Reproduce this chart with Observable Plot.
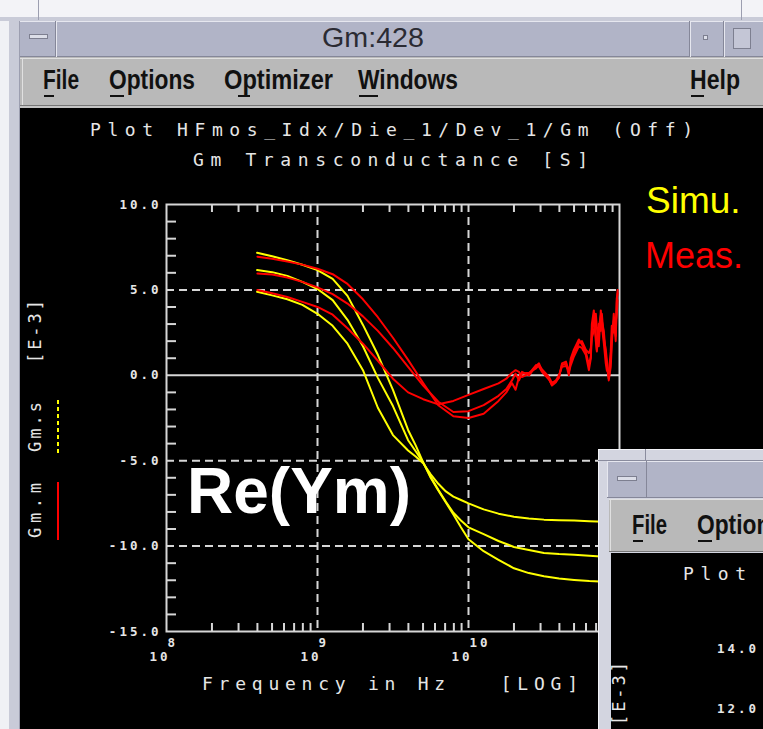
<!DOCTYPE html>
<html><head><meta charset="utf-8">
<script src="https://cdn.jsdelivr.net/npm/d3@7"></script>
<script src="https://cdn.jsdelivr.net/npm/@observablehq/plot@0.6"></script>
<style>
body{margin:0;width:763px;height:729px;overflow:hidden;position:relative;background:#f0f0f4;}
#plot{position:absolute;left:20px;top:108px;width:743px;height:621px;background:#000;}
#overlay{position:absolute;left:0;top:0;}
#plot svg text{letter-spacing:3px;}
.mono{font-family:"DejaVu Sans Mono",monospace;}
.menu{font-family:"Liberation Sans",Arial,sans-serif;font-weight:bold;font-size:27px;fill:#111;}
</style></head><body>
<div id="plot"></div>
<svg id="overlay" width="763" height="729">
  <!-- main window frame -->
  <rect x="0" y="0" width="763" height="21" fill="#f3f3f7"/>
  <rect x="0" y="17" width="763" height="4" fill="#c9cbd8"/>
  <line x1="38.5" y1="0" x2="38.5" y2="20" stroke="#9c9eb0"/>
  <line x1="741.5" y1="0" x2="741.5" y2="20" stroke="#9c9eb0"/>
  <rect x="0" y="21" width="20" height="708" fill="#c9cbd8"/>
  <rect x="0" y="21" width="9" height="708" fill="#f0f1f5"/>
  <line x1="19.5" y1="21" x2="19.5" y2="729" stroke="#9c9eb0"/>
  <!-- title bar -->
  <rect x="20" y="21" width="743" height="36" fill="#b1b4c7"/>
  <line x1="20" y1="21.5" x2="763" y2="21.5" stroke="#e6e7ef"/>
  <line x1="20" y1="56.5" x2="763" y2="56.5" stroke="#858799"/>
  <line x1="55.5" y1="21" x2="55.5" y2="57" stroke="#858799"/>
  <line x1="56.5" y1="21" x2="56.5" y2="57" stroke="#e6e7ef"/>
  <rect x="29.5" y="34.5" width="18" height="4" fill="#dcdee8" stroke="#7d7f90"/>
  <text x="373" y="47" text-anchor="middle" font-family="Liberation Sans" font-size="27" fill="#2b2b33" textLength="102" lengthAdjust="spacingAndGlyphs">Gm:428</text>
  <line x1="689.5" y1="21" x2="689.5" y2="57" stroke="#858799"/>
  <line x1="690.5" y1="21" x2="690.5" y2="57" stroke="#e6e7ef"/>
  <line x1="723.5" y1="21" x2="723.5" y2="57" stroke="#858799"/>
  <line x1="724.5" y1="21" x2="724.5" y2="57" stroke="#e6e7ef"/>
  <rect x="703.5" y="35.5" width="4" height="4" fill="#dcdee8" stroke="#7d7f90"/>
  <rect x="733.5" y="28.5" width="17" height="20" fill="#c4c6d6" stroke="#7d7f90"/>
  <!-- menu bar -->
  <rect x="20" y="57" width="743" height="51" fill="#b9b9b9"/>
  <line x1="20" y1="58.5" x2="763" y2="58.5" stroke="#e0e0e0"/>
  <line x1="22.5" y1="58" x2="22.5" y2="106" stroke="#e0e0e0"/>
  <line x1="20" y1="105.5" x2="763" y2="105.5" stroke="#767676"/>
  <line x1="20" y1="107" x2="763" y2="107" stroke="#d0d0d0"/>
  <text class="menu" x="43" y="89" textLength="36" lengthAdjust="spacingAndGlyphs">File</text>
  <text class="menu" x="109" y="89" textLength="86" lengthAdjust="spacingAndGlyphs">Options</text>
  <text class="menu" x="224" y="89" textLength="109" lengthAdjust="spacingAndGlyphs">Optimizer</text>
  <text class="menu" x="358" y="89" textLength="100" lengthAdjust="spacingAndGlyphs">Windows</text>
  <text class="menu" x="690" y="89" textLength="50" lengthAdjust="spacingAndGlyphs">Help</text>
  <g stroke="#111" stroke-width="2">
    <line x1="44" y1="96" x2="54" y2="96"/>
    <line x1="110" y1="96" x2="124" y2="96"/>
    <line x1="238" y1="96" x2="250" y2="96"/>
    <line x1="359" y1="96" x2="378" y2="96"/>
    <line x1="691" y1="96" x2="704" y2="96"/>
  </g>
  <!-- plot titles -->
  <g class="mono" font-size="18" fill="#e6e6e6">
    <text x="90" y="136" textLength="603" lengthAdjust="spacing">Plot HFmos_Idx/Die_1/Dev_1/Gm (Off)</text>
    <text x="193" y="166" textLength="395" lengthAdjust="spacing">Gm Transconductance [S]</text>
    <text x="202" y="690" textLength="376" lengthAdjust="spacing" style="white-space:pre">Frequency in Hz   [LOG]</text>
  </g>
  <!-- left legend -->
  <g class="mono" font-size="17" fill="#e6e6e6">
    <text transform="translate(41,363) rotate(-90)" textLength="63" lengthAdjust="spacing">[E-3]</text>
    <text transform="translate(41,452) rotate(-90)" textLength="50" lengthAdjust="spacing">Gm.s</text>
    <text transform="translate(41,538) rotate(-90)" textLength="55" lengthAdjust="spacing">Gm.m</text>
  </g>
  <line x1="58" y1="400" x2="58" y2="453" stroke="#ffff00" stroke-width="2" stroke-dasharray="4,3"/>
  <line x1="58" y1="482" x2="58" y2="540" stroke="#ff0000" stroke-width="2"/>
  <!-- annotations -->
  <text x="646" y="213" font-family="Liberation Sans" font-size="37" fill="#ffff00">Simu.</text>
  <text x="645" y="268" font-family="Liberation Sans" font-size="36" fill="#ff0000">Meas.</text>
  <text x="187" y="513" font-family="Liberation Sans" font-weight="bold" font-size="64" fill="#ffffff">Re(Ym)</text>
  <!-- second window -->
  <rect x="598" y="449" width="165" height="280" fill="#d3d5e0"/>
  <line x1="598.5" y1="449" x2="598.5" y2="729" stroke="#f2f3f7"/>
  <line x1="598" y1="449.5" x2="763" y2="449.5" stroke="#f2f3f7"/>
  <line x1="645.5" y1="449" x2="645.5" y2="460" stroke="#8a8c9e"/>
  <line x1="598" y1="460.5" x2="763" y2="460.5" stroke="#8a8c9e"/>
  <rect x="607" y="461" width="156" height="37" fill="#b1b4c7"/>
  <line x1="607" y1="461.5" x2="763" y2="461.5" stroke="#e6e7ef"/>
  <line x1="607.5" y1="461" x2="607.5" y2="498" stroke="#e6e7ef"/>
  <line x1="646.5" y1="461" x2="646.5" y2="498" stroke="#858799"/>
  <rect x="617.5" y="476.5" width="19" height="4" fill="#dcdee8" stroke="#7d7f90"/>
  <line x1="607" y1="497.5" x2="763" y2="497.5" stroke="#858799"/>
  <rect x="609" y="499" width="154" height="53" fill="#b9b9b9"/>
  <line x1="609" y1="499.5" x2="763" y2="499.5" stroke="#e0e0e0"/>
  <line x1="610.5" y1="499" x2="610.5" y2="552" stroke="#e0e0e0"/>
  <line x1="609" y1="551.5" x2="763" y2="551.5" stroke="#767676"/>
  <text class="menu" x="632" y="534" textLength="35" lengthAdjust="spacingAndGlyphs">File</text>
  <text class="menu" x="697" y="534" textLength="86" lengthAdjust="spacingAndGlyphs">Options</text>
  <g stroke="#111" stroke-width="2">
    <line x1="633" y1="541" x2="643" y2="541"/>
    <line x1="698" y1="541" x2="712" y2="541"/>
  </g>
  <rect x="611" y="553" width="152" height="176" fill="#000"/>
  <text class="mono" x="683" y="580" font-size="18" fill="#e6e6e6" textLength="63" lengthAdjust="spacing">Plot</text>
  <g class="mono" font-size="12.5" font-weight="bold" fill="#e6e6e6" style="letter-spacing:3px">
    <text x="717" y="653">14.0</text>
    <text x="717" y="713">12.0</text>
  </g>
  <text class="mono" transform="translate(625,725) rotate(-90)" font-size="17" fill="#e6e6e6" textLength="63" lengthAdjust="spacing">[E-3]</text>
</svg>
<script>
// ---- data (frequency in Hz, Gm in E-3 S) ----
const simFreqHz = [3.98e8, 5.01e8, 6.31e8, 7.94e8, 1.00e9, 1.26e9, 1.58e9, 2.00e9, 2.51e9, 3.16e9,
  3.98e9, 4.47e9, 5.01e9, 5.62e9, 6.31e9, 7.08e9, 7.94e9, 8.91e9, 1.00e10, 1.26e10,
  1.58e10, 2.00e10, 2.51e10, 3.16e10, 3.98e10, 5.01e10, 6.31e10, 7.94e10, 1.00e11];
const simHigh = [7.17, 6.97, 6.74, 6.47, 6.16, 5.65, 4.65, 2.95, 1.2, -0.85,
  -3.2, -4.1, -5.1, -6.0, -6.75, -7.45, -8.15, -8.9, -9.6, -10.3,
  -10.8, -11.3, -11.58, -11.76, -11.9, -11.98, -12.05, -12.08, -12.1];
const simMid = [6.16, 6.04, 5.82, 5.47, 5.05, 4.4, 3.25, 1.7, -0.15, -1.8,
  -3.8, -4.45, -5.1, -5.95, -6.7, -7.4, -8.05, -8.5, -8.9, -9.3,
  -9.7, -10.05, -10.23, -10.4, -10.46, -10.5, -10.56, -10.62, -10.65];
const simLow = [4.89, 4.68, 4.45, 4.12, 3.6, 2.9, 1.85, 0.3, -1.9, -3.5,
  -4.4, -4.75, -5.15, -5.8, -6.35, -6.8, -7.1, -7.3, -7.5, -7.85,
  -8.1, -8.28, -8.38, -8.45, -8.48, -8.5, -8.54, -8.57, -8.6];

const measFreqHz = [4.0e8, 5.01e8, 6.31e8, 7.94e8, 1.0e9, 1.26e9, 1.58e9, 2.0e9, 2.51e9, 3.16e9,
  3.98e9, 5.01e9, 6.31e9, 7.94e9, 1.0e10, 1.26e10, 1.58e10, 1.78e10,
  1.94e10, 2.05e10, 2.16e10, 2.26e10, 2.52e10, 2.80e10, 2.93e10, 3.07e10, 3.41e10, 3.57e10,
  3.79e10, 3.97e10, 4.16e10, 4.42e10, 4.62e10, 4.76e10, 4.99e10, 5.38e10, 5.64e10, 5.98e10,
  6.27e10, 6.46e10, 6.56e10, 6.76e10, 6.97e10, 7.08e10, 7.29e10, 7.52e10, 7.64e10, 7.87e10,
  8.11e10, 8.24e10, 8.49e10, 8.75e10, 8.89e10, 9.16e10, 9.44e10, 9.59e10, 9.72e10];
const measHigh = [6.94, 6.82, 6.66, 6.48, 6.24, 5.92, 5.35, 4.45, 3.4, 2.2,
  0.9, -0.45, -1.75, -2.4, -2.5, -2.25, -1.5, -1.0,
  -0.45, -0.85, -0.1, 0.2, 0.0, 0.55, 0.7, 0.25, -0.2, -0.6,
  -0.4, -0.1, 0.6, 0.7, 0.0, 1.0, 1.5, 2.1, 1.8, 1.4,
  0.6, 1.1, 3.0, 3.8, 2.4, 1.5, 2.8, 3.5, 3.2, 2.6,
  1.2, 0.6, -0.2, 0.9, 2.2, 3.2, 2.3, 4.2, 5.0];
const measMid = [5.96, 5.9, 5.72, 5.47, 5.15, 4.75, 4.2, 3.45, 2.6, 1.6,
  0.5, -0.6, -1.55, -2.15, -2.1, -1.75, -1.2, -0.8,
  -0.3, 0.1, -0.3, 0.1, 0.15, 0.4, 0.6, 0.35, -0.1, -0.45,
  -0.3, 0.0, 0.5, 0.55, 0.3, 0.8, 1.3, 1.9, 2.0, 1.5,
  1.3, 1.6, 2.2, 2.6, 3.6, 2.8, 1.7, 3.8, 2.9, 1.9,
  0.7, 0.3, 0.1, 1.4, 2.9, 2.5, 3.1, 3.6, 4.4];
const measLow = [4.99, 4.8, 4.58, 4.3, 4.0, 3.55, 2.75, 1.85, 0.85, -0.2,
  -1.0, -1.4, -1.7, -1.5, -1.15, -0.8, -0.47, -0.2,
  0.15, 0.3, 0.2, -0.1, 0.1, 0.6, 0.5, 0.2, -0.25, -0.55,
  -0.35, -0.15, 0.7, 0.8, 0.2, 0.6, 1.1, 1.7, 1.6, 1.2,
  0.3, 1.0, 2.6, 3.4, 2.0, 1.4, 3.0, 2.6, 3.6, 2.2,
  1.5, 0.9, -0.3, 0.5, 1.8, 3.6, 2.0, 4.5, 4.8];

const yMajorTicks = [-15, -10, -5, 0, 5, 10];
const yDashedGrid = [5, -5, -10];
const yMinorTicks = [-14, -13, -12, -11, -9, -8, -7, -6, -4, -3, -2, -1, 1, 2, 3, 4, 6, 7, 8, 9];
const xDecadeExps = [8, 9, 10];
const xDashedGrid = [1e9, 1e10];
const xMinorMult = [2, 3, 4, 5, 6, 7, 8, 9];

// ---- tables ----
const toRows = (freqs, vals, s) => freqs.map((f, i) => ({f, v: vals[i], s}));
const simRows = [...toRows(simFreqHz, simHigh, "s1"), ...toRows(simFreqHz, simMid, "s2"), ...toRows(simFreqHz, simLow, "s3")];
const measRows = [...toRows(measFreqHz, measHigh, "m1"), ...toRows(measFreqHz, measMid, "m2"), ...toRows(measFreqHz, measLow, "m3")];
const xMinorTicks = [1e8, 1e9, 1e10].flatMap(d => xMinorMult.map(m => m * d));

const axisCol = "#d6d6d6";
const W = 743, H = 621, mL = 146, mR = 144, mT = 96, mB = 98;
const fw = W - mL - mR, fh = H - mT - mB;

const chart = Plot.plot({
  width: W, height: H,
  marginLeft: mL, marginRight: mR, marginTop: mT, marginBottom: mB,
  style: {background: "#000", color: axisCol, fontFamily: "DejaVu Sans Mono, monospace", fontSize: "12.5px"},
  x: {type: "log", domain: [1e8, 1e11], axis: null},
  y: {domain: [-15, 10], axis: null},
  marks: [
    Plot.ruleY(yDashedGrid, {stroke: axisCol, strokeWidth: 2, strokeDasharray: "8,5"}),
    Plot.ruleX(xDashedGrid, {stroke: axisCol, strokeWidth: 2, strokeDasharray: "8,5"}),
    Plot.ruleY([0], {stroke: axisCol, strokeWidth: 2}),
    Plot.ruleY(yMinorTicks, {stroke: axisCol, strokeWidth: 2, insetRight: fw - 10}),
    Plot.ruleX(xMinorTicks, {stroke: axisCol, strokeWidth: 2, insetBottom: fh - 8}),
    Plot.ruleX(xMinorTicks, {stroke: axisCol, strokeWidth: 2, insetTop: fh - 8}),
    Plot.frame({stroke: axisCol, strokeWidth: 2}),
    Plot.axisY(yMajorTicks, {tickSize: 0, tickPadding: 5, tickFormat: d => d.toFixed(1), fontWeight: "bold", fill: "#e6e6e6", label: null}),
    Plot.text(xDecadeExps, {x: d => 10 ** d, frameAnchor: "bottom", text: () => "10", textAnchor: "end", dx: 4, dy: 29, fontWeight: "bold", fill: "#e6e6e6"}),
    Plot.text(xDecadeExps, {x: d => 10 ** d, frameAnchor: "bottom", text: d => String(d), textAnchor: "start", dx: 1, dy: 15, fontWeight: "bold", fill: "#e6e6e6"}),
    Plot.line(simRows, {x: "f", y: "v", z: "s", stroke: "#ffff00", strokeWidth: 2}),
    Plot.line(measRows, {x: "f", y: "v", z: "s", stroke: "#ff0000", strokeWidth: 2})
  ]
});
document.getElementById("plot").append(chart);
</script>
</body></html>
